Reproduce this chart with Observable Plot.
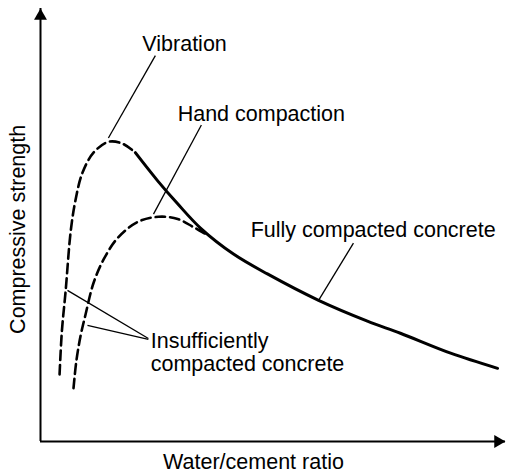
<!DOCTYPE html>
<html>
<head>
<meta charset="utf-8">
<script src="https://cdn.jsdelivr.net/npm/d3@7"></script>
<script src="https://cdn.jsdelivr.net/npm/@observablehq/plot@0.6"></script>
<style>
  html, body { margin: 0; padding: 0; background: #fff; }
  #chart svg { display: block; }
</style>
</head>
<body>
<div id="chart"></div>
<script>
// Relative scales: water/cement ratio (0–100) and compressive strength (0–100)

// Fully compacted concrete: strength falls steadily as the ratio rises
const fullyRatio    = [20.4, 25.2, 29.5, 34.4, 41.5, 48.8, 59.8, 70.3, 77.4, 88.2, 98.3];
const fullyStrength = [66.7, 60.2, 54.9, 49.3, 43.3, 38.7, 32.6, 27.8, 25.0, 20.4, 16.9];

// Compacted by vibration: rises steeply at low ratios, then joins the full-compaction curve
const vibrationRatio    = [4.1, 4.6, 5.4, 6.5, 7.5, 9.0, 11.4, 14.6, 17.6, 20.4];
const vibrationStrength = [15.5, 25.5, 34.7, 48.6, 55.6, 62.0, 66.7, 69.2, 68.8, 66.7];

// Compacted by hand: lower peak, joins the full-compaction curve later
const handRatio    = [7.1, 7.7, 8.6, 9.7, 11.4, 13.6, 16.6, 20.9, 25.4, 29.5, 32.9, 35.9];
const handStrength = [12.3, 18.5, 24.3, 29.4, 36.6, 42.1, 47.0, 50.7, 51.9, 51.4, 49.5, 47.7];

// Annotations: label text, label anchor, and the point each leader line points to
const labelText     = ["Vibration", "Hand compaction", "Fully compacted concrete", "Insufficiently\ncompacted concrete"];
const labelRatio    = [21.9, 29.5, 45.2, 23.7];
const labelStrength = [90.3, 74.1, 47.2, 16.2];

const leaderFromRatio    = [24.7, 34.6, 67.3, 23.2, 23.2];
const leaderFromStrength = [89.1, 73.1, 45.8, 23.8, 23.6];
const leaderToRatio      = [14.6, 24.3, 59.8, 5.8, 10.1];
const leaderToStrength   = [70.1, 52.5, 32.6, 34.9, 26.8];

const axisTitleX = "Water/cement ratio";
const axisTitleY = "Compressive strength";

const toPoints = (xs, ys) => xs.map((x, i) => ({x, y: ys[i]}));
const fully = toPoints(fullyRatio, fullyStrength);
const vibration = toPoints(vibrationRatio, vibrationStrength);
const hand = toPoints(handRatio, handStrength);
const labels = labelText.map((text, i) => ({text, x: labelRatio[i], y: labelStrength[i]}));
const leaders = leaderFromRatio.map((x1, i) => ({
  x1, y1: leaderFromStrength[i], x2: leaderToRatio[i], y2: leaderToStrength[i]
}));

const font = "'Liberation Sans', Arial, Helvetica, sans-serif";
const dashes = "9.5,5";

const chart = Plot.plot({
  width: 506,
  height: 474,
  marginLeft: 40,
  marginRight: 1,
  marginTop: 8,
  marginBottom: 33,
  x: {domain: [0, 100], axis: null},
  y: {domain: [0, 100], axis: null},
  style: {fontFamily: font, fontSize: "21.5px", color: "#000", background: "#fff"},
  marks: [
    // axes with filled arrow heads
    Plot.ruleX([0], {y1: 0, y2: 100, stroke: "#000", strokeWidth: 2}),
    Plot.ruleY([0], {x1: 0, x2: 100, stroke: "#000", strokeWidth: 2}),
    Plot.dot([{x: 0, y: 100}], {x: "x", y: "y", symbol: "triangle", r: 4.8, fill: "#000", stroke: null, dy: 7.5}),
    Plot.dot([{x: 100, y: 0}], {x: "x", y: "y", symbol: "triangle", r: 4.8, fill: "#000", stroke: null, rotate: 90, dx: -7.5}),

    // strength curves
    Plot.line(fully, {x: "x", y: "y", curve: "catmull-rom", stroke: "#000", strokeWidth: 3}),
    Plot.line(vibration, {x: "x", y: "y", curve: "catmull-rom", stroke: "#000", strokeWidth: 2.6, strokeDasharray: dashes}),
    Plot.line(hand, {x: "x", y: "y", curve: "catmull-rom", stroke: "#000", strokeWidth: 2.6, strokeDasharray: dashes}),

    // leader lines and labels
    Plot.link(leaders, {x1: "x1", y1: "y1", x2: "x2", y2: "y2", stroke: "#000", strokeWidth: 1.3}),
    Plot.text(labels, {x: "x", y: "y", text: "text", textAnchor: "start", lineAnchor: "bottom", lineHeight: 1.08, fill: "#000"}),

    // axis titles
    Plot.text([axisTitleX], {x: () => 45.8, frameAnchor: "bottom", dy: 27, textAnchor: "middle", lineAnchor: "bottom", fill: "#000"}),
    Plot.text([axisTitleY], {frameAnchor: "left", y: () => 49, dx: -16, rotate: -90, textAnchor: "middle", lineAnchor: "bottom", fill: "#000"})
  ]
});

document.getElementById("chart").appendChild(chart);
</script>
</body>
</html>
